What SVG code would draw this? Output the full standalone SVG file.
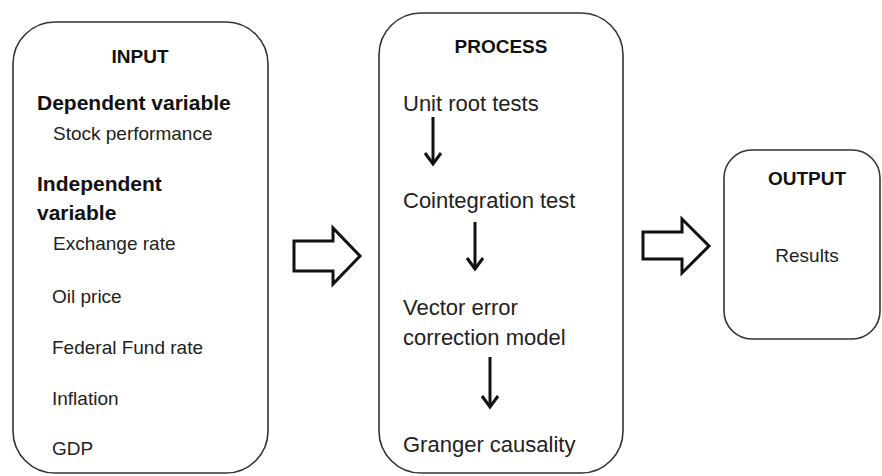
<svg xmlns="http://www.w3.org/2000/svg" width="882" height="476" viewBox="0 0 882 476">
<style>
.box{fill:#fff;stroke:#333;stroke-width:1.6}
.t{font-family:"Liberation Sans",Arial,sans-serif;fill:#222;font-size:19px}
.b{font-weight:bold;fill:#111}
.h{font-size:21px}
.p{font-size:22px}
.big{fill:#fff;stroke:#111;stroke-width:3;stroke-linejoin:miter}
.dn{fill:none;stroke:#111;stroke-width:3}
</style>
<rect width="882" height="476" fill="#fff"/>
<g id="input">
<rect class="box" x="13" y="22" width="255" height="451" rx="42" ry="42"/>
<text class="t b" x="140" y="63" text-anchor="middle" font-size="19">INPUT</text>
<text class="t b h" x="37" y="110">Dependent variable</text>
<text class="t" x="53" y="140">Stock performance</text>
<text class="t b h" x="37" y="191">Independent</text>
<text class="t b h" x="37" y="220">variable</text>
<text class="t" x="53" y="250">Exchange rate</text>
<text class="t" x="52" y="303">Oil price</text>
<text class="t" x="52" y="354">Federal Fund rate</text>
<text class="t" x="52" y="405">Inflation</text>
<text class="t" x="52" y="455">GDP</text>
</g>
<g id="process">
<rect class="box" x="379" y="13" width="244" height="460" rx="42" ry="42"/>
<text class="t b" x="501" y="53" text-anchor="middle" font-size="18">PROCESS</text>
<text class="t p" x="403" y="111">Unit root tests</text>
<text class="t p" x="403" y="208">Cointegration test</text>
<text class="t p" x="403" y="315">Vector error</text>
<text class="t p" x="403" y="345">correction model</text>
<text class="t p" x="403" y="452">Granger causality</text>
</g>
<g id="output">
<rect class="box" x="724" y="150" width="156" height="189" rx="28" ry="28"/>
<text class="t b" x="807" y="185" text-anchor="middle" font-size="17">OUTPUT</text>
<text class="t" x="807" y="262" text-anchor="middle" font-size="17">Results</text>
</g>
<g id="connectors">
<polygon class="big" points="294,241 333,241 333,228 360,256 333,284 333,271 294,271"/>
<polygon class="big" points="643,232 682,232 682,219 709,246 682,273 682,259 643,259"/>
<g class="dn">
<line x1="433" y1="117" x2="433" y2="164"/>
<polyline points="425,153 433,164 441,153"/>
<line x1="475" y1="222" x2="475" y2="269"/>
<polyline points="467,258 475,269 483,258"/>
<line x1="490" y1="357" x2="490" y2="407"/>
<polyline points="482,396 490,407 498,396"/>
</g>
</g>
</svg>
